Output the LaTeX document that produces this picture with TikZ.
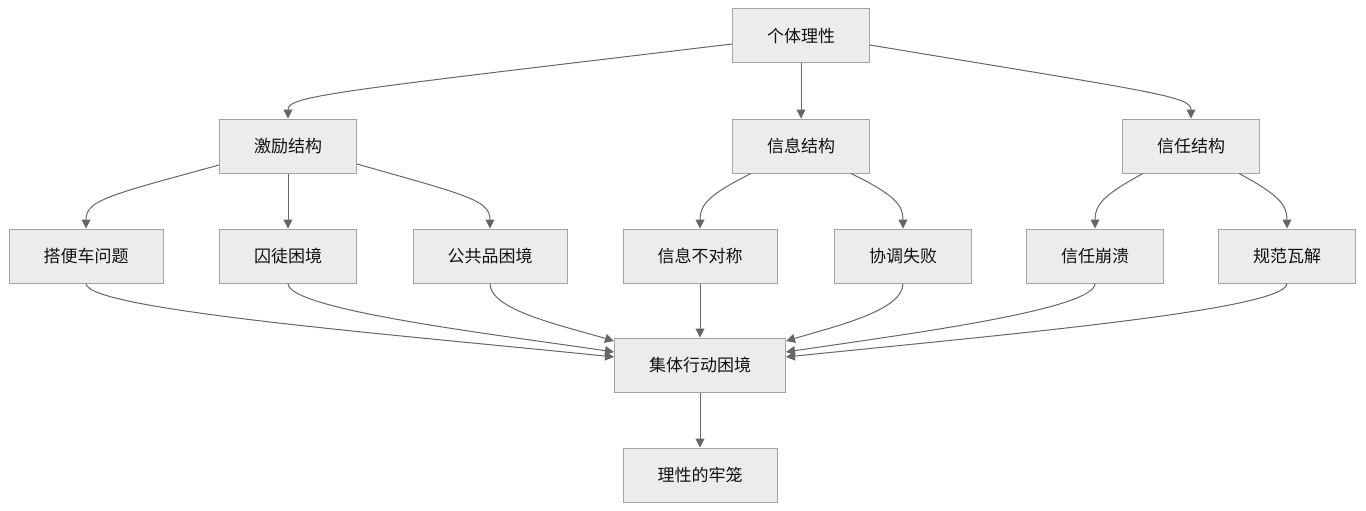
\documentclass[tikz,border=0pt]{standalone}
\usepackage{fontspec}
\newfontfamily\cjk{Noto Sans CJK SC}
\usetikzlibrary{arrows.meta}
\definecolor{boxfill}{HTML}{ECECEC}
\definecolor{boxline}{HTML}{A3A3A3}
\definecolor{edgecol}{HTML}{666666}
\definecolor{textcol}{HTML}{111111}
\tikzset{
	box/.style = {draw = boxline, fill = boxfill, line width = 1pt, minimum height = 54pt, inner xsep = 34.5pt, text = textcol, font = \cjk\fontsize{17}{20}\selectfont},
	arr/.style = {draw = edgecol, line width = 1pt, -{Triangle[length = 9pt, width = 9pt]}}
}
\begin{document}
\begin{tikzpicture}[x = 1pt, y = -1pt]
	\useasboundingbox (0,0) rectangle (1366,511);
	\node[box] (gtlx) at (801,36) {个体理性};
	\node[box] (jljg) at (288,146) {激励结构};
	\node[box] (xxjg) at (801,146) {信息结构};
	\node[box] (xrjg) at (1191,146) {信任结构};
	\node[box] (dbc) at (86,256) {搭便车问题};
	\node[box] (qtkj) at (288,256) {囚徒困境};
	\node[box] (ggp) at (490,256) {公共品困境};
	\node[box] (xxbdc) at (700,256) {信息不对称};
	\node[box] (xtsb) at (903,256) {协调失败};
	\node[box] (xrbk) at (1095,256) {信任崩溃};
	\node[box] (gfwj) at (1287,256) {规范瓦解};
	\node[box] (jtxd) at (700,365) {集体行动困境};
	\node[box] (lllc) at (700,475) {理性的牢笼};
	\draw[arr] ([yshift = -8pt]gtlx.west) .. controls (330,92) and (288,96) .. (jljg.north);
	\draw[arr] (gtlx) -- (xxjg);
	\draw[arr] ([yshift = -9pt]gtlx.east) .. controls (1152,92) and (1191,96) .. (xrjg.north);
	\draw[arr] ([yshift = -19pt]jljg.west) .. controls (110,195) and (86,200) .. (dbc.north);
	\draw[arr] (jljg) -- (qtkj);
	\draw[arr] ([yshift = -18pt]jljg.east) .. controls (466,195) and (490,200) .. (ggp.north);
	\draw[arr] ([xshift = -50pt]xxjg.south) .. controls (708,195) and (700,205) .. (xxbdc.north);
	\draw[arr] ([xshift = 50pt]xxjg.south) .. controls (895,195) and (903,205) .. (xtsb.north);
	\draw[arr] ([xshift = -48pt]xrjg.south) .. controls (1103,195) and (1095,205) .. (xrbk.north);
	\draw[arr] ([xshift = 48pt]xrjg.south) .. controls (1279,195) and (1287,205) .. (gfwj.north);
	\draw[arr] (dbc.south) .. controls (86,310) and (400,335) .. ([yshift = 8pt]jtxd.west);
	\draw[arr] (qtkj.south) .. controls (288,310) and (500,335) .. ([yshift = 13pt]jtxd.west);
	\draw[arr] (ggp.south) .. controls (490,310) and (560,325) .. ([yshift = 24pt]jtxd.west);
	\draw[arr] (xxbdc) -- (jtxd);
	\draw[arr] (xtsb.south) .. controls (903,310) and (840,325) .. ([yshift = 24pt]jtxd.east);
	\draw[arr] (xrbk.south) .. controls (1095,310) and (900,335) .. ([yshift = 13pt]jtxd.east);
	\draw[arr] (gfwj.south) .. controls (1287,310) and (1000,335) .. ([yshift = 8pt]jtxd.east);
	\draw[arr] (jtxd) -- (lllc);
\end{tikzpicture}
\end{document}
